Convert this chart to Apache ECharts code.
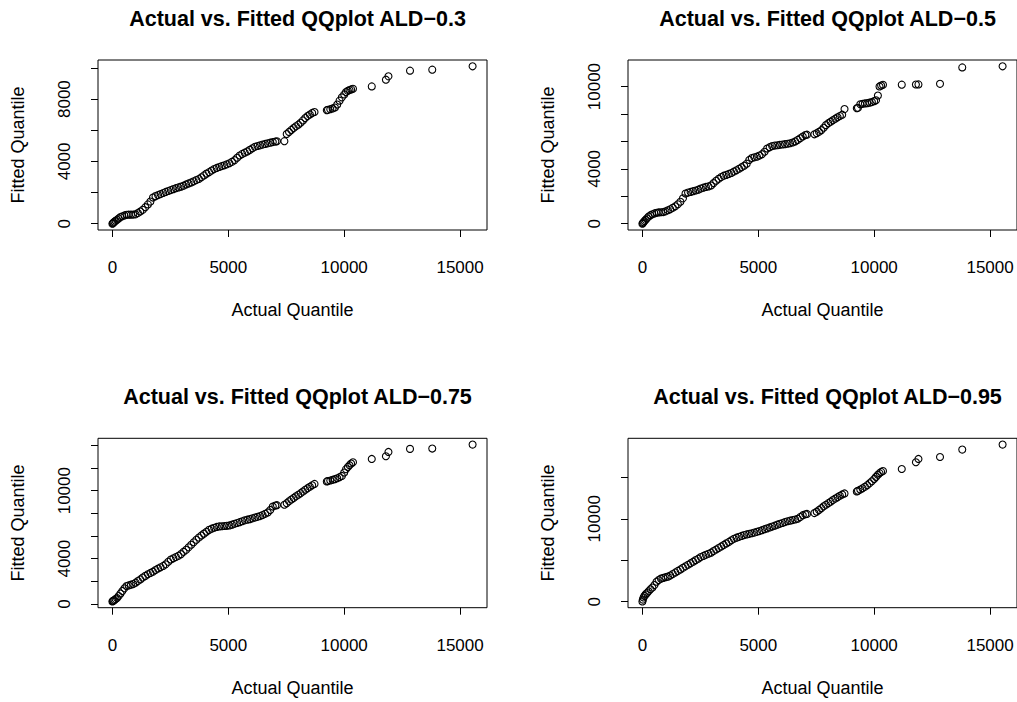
<!DOCTYPE html>
<html><head><meta charset="utf-8">
<script src="https://cdn.jsdelivr.net/npm/echarts@6/dist/echarts.min.js"></script>
<style>html,body{margin:0;padding:0;background:#fff}#c{width:1017px;height:702px}</style>
</head><body><div id="c"></div>
<script>
// Actual (empirical) quantiles, shared x for all four QQ plots
const actualQ = [0,20,50,90,140,200,270,350,430,520,610,700,800,900,1000,1100,1200,1310,1420,1530,
1640,1750,1860,1970,2080,2190,2300,2410,2520,2630,2740,2850,2960,3070,3180,3290,3400,3510,3620,3730,
3840,3950,4060,4170,4280,4390,4500,4610,4720,4830,4940,5050,5160,5270,5380,5490,5600,5710,5820,5930,
6040,6150,6260,6370,6480,6590,6700,6810,6920,7030,7100,7420,7520,7620,7720,7820,7920,8020,8120,8220,
8320,8420,8520,8620,8720,9250,9300,9400,9500,9600,9700,9800,9900,10000,10080,10160,10230,10300,10380,
11190,11800,11910,12840,13800,15540];

const fittedALD03 = [0,30,80,130,190,260,340,430,480,530,575,580,580,585,600,680,780,890,1060,1240,
1420,1680,1770,1840,1900,1970,2040,2100,2160,2220,2280,2330,2380,2440,2520,2585,2650,2720,2800,2870,
2980,3100,3215,3310,3410,3510,3580,3640,3700,3750,3810,3880,3970,4080,4230,4380,4480,4560,4640,4740,
4840,4940,4990,5030,5080,5120,5160,5200,5240,5270,5290,5300,5760,5890,6020,6140,6250,6360,6480,6630,
6780,6910,7010,7110,7170,7290,7310,7350,7400,7460,7650,7900,8110,8300,8450,8530,8580,8620,8660,
8815,9245,9460,9826,9890,10105];

const fittedALD05 = [0,50,110,200,280,390,520,620,690,750,800,820,835,850,900,980,1050,1160,1270,1420,
1600,1850,2200,2270,2320,2370,2420,2480,2560,2630,2680,2720,2790,2960,3130,3270,3400,3500,3560,3630,
3700,3800,3900,4010,4120,4230,4380,4650,4790,4840,4890,4970,5070,5250,5480,5580,5660,5700,5720,5750,
5775,5800,5830,5870,5920,6000,6110,6230,6360,6470,6490,6520,6600,6700,6820,7000,7190,7330,7440,7550,
7660,7760,7850,7950,8360,8420,8450,8710,8740,8770,8790,8830,8870,8940,9000,9350,10010,10080,10130,
10140,10150,10160,10200,11400,11480];

const fittedALD075 = [225,260,300,360,430,520,700,930,1150,1380,1580,1640,1700,1760,1880,2020,2170,2330,2480,2620,
2740,2850,3000,3130,3240,3360,3500,3720,3920,4030,4140,4250,4400,4600,4780,5000,5230,5450,5660,5860,
6050,6210,6370,6540,6650,6730,6800,6845,6860,6880,6900,6930,7000,7080,7145,7220,7300,7380,7440,7490,
7560,7630,7690,7760,7850,7960,8080,8300,8600,8690,8720,8760,8900,9060,9220,9360,9500,9640,9780,9920,
10080,10220,10350,10480,10600,10820,10850,10900,10960,11020,11100,11190,11300,11600,11900,12100,12250,12400,12510,
12800,13040,13420,13690,13720,14070];

const fittedALD095 = [30,250,500,700,880,1050,1250,1500,1700,2000,2400,2600,2780,2870,2950,3020,3150,3340,3530,3710,
3890,4080,4260,4450,4640,4820,5010,5190,5380,5520,5650,5780,5910,6100,6290,6470,6660,6840,7030,7210,
7400,7590,7720,7820,7930,8030,8110,8180,8250,8330,8420,8510,8620,8740,8840,8950,9060,9170,9290,9390,
9490,9600,9700,9770,9840,9910,10000,10200,10430,10530,10580,10680,10850,11060,11280,11500,11690,11880,12060,12250,
12430,12600,12770,12930,13050,13300,13380,13520,13680,13850,14050,14270,14520,14800,15050,15300,15500,15650,15750,
16000,16810,17210,17450,18340,18945];

const panelTitles = ['Actual vs. Fitted QQplot ALD\u22120.3','Actual vs. Fitted QQplot ALD\u22120.5',
                     'Actual vs. Fitted QQplot ALD\u22120.75','Actual vs. Fitted QQplot ALD\u22120.95'];
const xTitle = 'Actual Quantile';
const yTitle = 'Fitted Quantile';
const xTicks = [0,5000,10000,15000];
const yTicks03 = [0,2000,4000,6000,8000,10000];
const yLabels03 = [0,4000,8000];
const yTicks05 = [0,2000,4000,6000,8000,10000];
const yLabels05 = [0,4000,10000];
const yTicks075 = [0,2000,4000,6000,8000,10000,12000,14000];
const yLabels075 = [0,4000,10000];
const yTicks095 = [0,5000,10000,15000];
const yLabels095 = [0,10000];

const FONT = '"Liberation Sans", Arial, Helvetica, sans-serif';
const boxes = [
  {left:98, top:60, width:389, height:170},
  {left:628, top:60, width:389, height:170},
  {left:98, top:438.3, width:389, height:169.4},
  {left:628, top:438.3, width:389, height:169.4}
];
const series = [fittedALD03, fittedALD05, fittedALD075, fittedALD095];
const yTickSets = [yTicks03, yTicks05, yTicks075, yTicks095];
const yLabelSets = [yLabels03, yLabels05, yLabels075, yLabels095];

function padRange(arr){
  const mn = Math.min.apply(null, arr), mx = Math.max.apply(null, arr);
  const r = mx - mn;
  return [mn - 0.04*r, mx + 0.04*r];
}
const plain = v => String(Math.round(v));

const grid = [], xAxis = [], yAxis = [], ser = [], title = [];
const xr = padRange(actualQ);
for (let i = 0; i < 4; i++) {
  const b = boxes[i];
  grid.push({left:b.left, top:b.top, width:b.width, height:b.height, show:true,
    borderColor:'#000', borderWidth:1, backgroundColor:'transparent', containLabel:false, outerBoundsMode:'none'});
  xAxis.push({type:'value', gridIndex:i, min:xr[0], max:xr[1],
    axisLine:{show:false, onZero:false}, splitLine:{show:false},
    axisTick:{show:true, inside:false, length:7, customValues:xTicks, lineStyle:{color:'#000', width:1}},
    axisLabel:{show:true, customValues:xTicks, formatter:plain, margin:29, color:'#000', fontSize:17, fontFamily:FONT},
    name:xTitle, nameLocation:'middle', nameGap:71,
    nameTextStyle:{color:'#000', fontSize:18, fontFamily:FONT}});
  const yr = padRange(series[i]);
  yAxis.push({type:'value', gridIndex:i, min:yr[0], max:yr[1],
    axisLine:{show:false, onZero:false}, splitLine:{show:false},
    axisTick:{show:true, inside:false, length:7, customValues:yTickSets[i], lineStyle:{color:'#000', width:1}},
    axisLabel:{show:true, customValues:yLabelSets[i], formatter:plain, rotate:90, margin:25, color:'#000', fontSize:17, fontFamily:FONT},
    name:yTitle, nameLocation:'middle', nameGap:71, nameRotate:90,
    nameTextStyle:{color:'#000', fontSize:18, fontFamily:FONT}});
  ser.push({type:'scatter', xAxisIndex:i, yAxisIndex:i,
    data: actualQ.map((x, k) => [x, series[i][k]]),
    symbol:'circle', symbolSize:7, silent:true, clip:false,
    itemStyle:{color:'rgba(0,0,0,0)', borderColor:'#000', borderWidth:1.1, opacity:1}});
  title.push({text:panelTitles[i], left:b.left + b.width/2, top:b.top - 57, textAlign:'center',
    textStyle:{color:'#000', fontSize:21.5, fontWeight:'bold', fontFamily:FONT}});
}

const chart = echarts.init(document.getElementById('c'), null, {renderer:'svg', width:1017, height:702});
chart.setOption({backgroundColor:'#fff', animation:false, title, grid, xAxis, yAxis, series:ser});
</script></body></html>
